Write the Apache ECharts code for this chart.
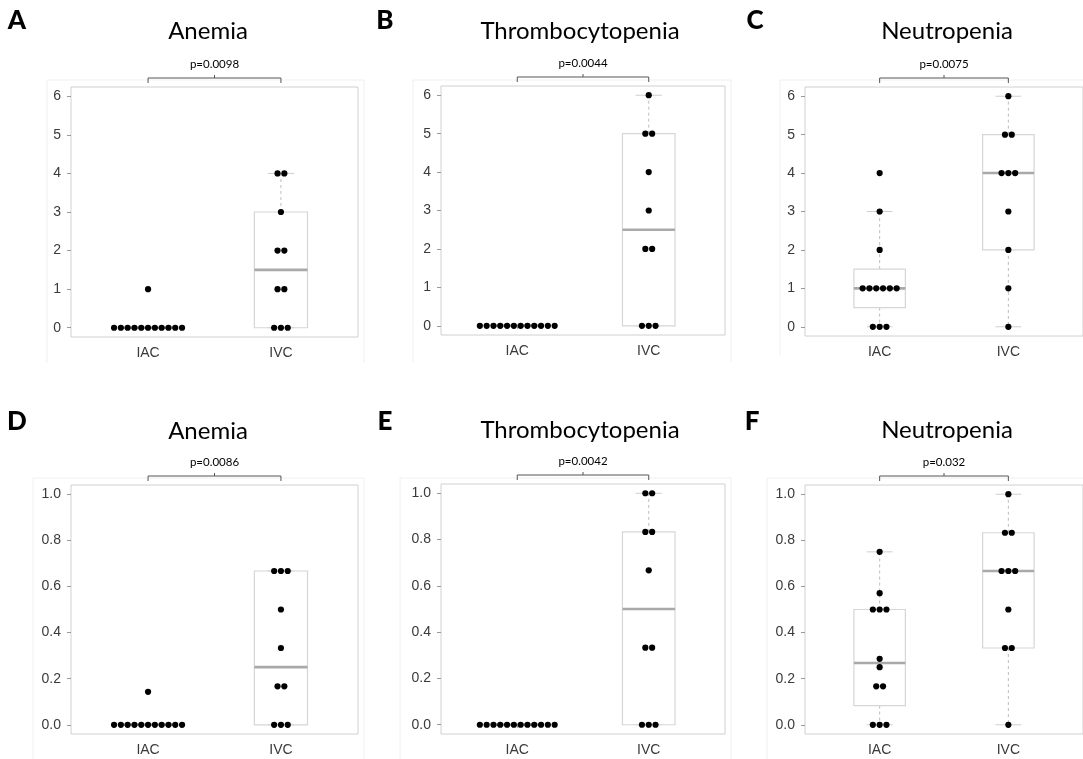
<!DOCTYPE html>
<html>
<head>
<meta charset="utf-8">
<script src="https://cdn.jsdelivr.net/npm/echarts@6/dist/echarts.min.js"></script>
<style>
html,body{margin:0;padding:0;background:#fff;}
#chart{width:1083px;height:759px;}
</style>
</head>
<body>
<div id="chart"></div>
<script>
// ---------------- data ----------------
const categories = ['IAC', 'IVC'];
const countTicks = [0, 1, 2, 3, 4, 5, 6];
const rateTicks = [0, 0.2, 0.4, 0.6, 0.8, 1.0];

const anemiaCountIAC = [1, 0, 0, 0, 0, 0, 0, 0, 0, 0, 0, 0];
const anemiaCountIVC = [4, 4, 3, 2, 2, 1, 1, 0, 0, 0];
const thrombCountIAC = [0, 0, 0, 0, 0, 0, 0, 0, 0, 0, 0, 0];
const thrombCountIVC = [6, 5, 5, 4, 3, 2, 2, 0, 0, 0];
const neutroCountIAC = [4, 3, 2, 1, 1, 1, 1, 1, 1, 0, 0, 0];
const neutroCountIVC = [6, 5, 5, 4, 4, 4, 3, 2, 1, 0];

const anemiaRateIAC = [0.143, 0, 0, 0, 0, 0, 0, 0, 0, 0, 0, 0];
const anemiaRateIVC = [0.667, 0.667, 0.667, 0.5, 0.333, 0.167, 0.167, 0, 0, 0];
const thrombRateIAC = [0, 0, 0, 0, 0, 0, 0, 0, 0, 0, 0, 0];
const thrombRateIVC = [1, 1, 0.833, 0.833, 0.667, 0.333, 0.333, 0, 0, 0];
const neutroRateIAC = [0.75, 0.571, 0.5, 0.5, 0.5, 0.286, 0.25, 0.167, 0.167, 0, 0, 0];
const neutroRateIVC = [1, 0.833, 0.833, 0.667, 0.667, 0.667, 0.5, 0.333, 0.333, 0];

const panelTitles = ['Anemia', 'Thrombocytopenia', 'Neutropenia', 'Anemia', 'Thrombocytopenia', 'Neutropenia'];
const panelLetters = ['A', 'B', 'C', 'D', 'E', 'F'];
const pValues = ['p=0.0098', 'p=0.0044', 'p=0.0075', 'p=0.0086', 'p=0.0042', 'p=0.032'];

const panels = [
  { iac: anemiaCountIAC, ivc: anemiaCountIVC, ticks: countTicks, max: 6, dec: 0 },
  { iac: thrombCountIAC, ivc: thrombCountIVC, ticks: countTicks, max: 6, dec: 0 },
  { iac: neutroCountIAC, ivc: neutroCountIVC, ticks: countTicks, max: 6, dec: 0 },
  { iac: anemiaRateIAC, ivc: anemiaRateIVC, ticks: rateTicks, max: 1, dec: 1 },
  { iac: thrombRateIAC, ivc: thrombRateIVC, ticks: rateTicks, max: 1, dec: 1 },
  { iac: neutroRateIAC, ivc: neutroRateIVC, ticks: rateTicks, max: 1, dec: 1 }
];

// ---------------- layout ----------------
const layout = [
  { l: 71,  t: 87,  w: 287, h: 250, tx: 208, ty: 31,  lx: 17,  ly: 21,  fl: 47,  ft: 80,  fr: 364,  fb: 363 },
  { l: 441, t: 86,  w: 284, h: 249, tx: 580, ty: 31,  lx: 385, ly: 21,  fl: 413, ft: 80,  fr: 731,  fb: 362 },
  { l: 805, t: 87,  w: 285, h: 249, tx: 947, ty: 31,  lx: 755, ly: 21,  fl: 780, ft: 80,  fr: 1100, fb: 356 },
  { l: 71,  t: 485, w: 287, h: 249, tx: 208, ty: 431, lx: 17,  ly: 422, fl: 33,  ft: 478, fr: 364,  fb: 770 },
  { l: 441, t: 484, w: 284, h: 250, tx: 580, ty: 430, lx: 385, ly: 422, fl: 400, ft: 478, fr: 731,  fb: 770 },
  { l: 805, t: 485, w: 285, h: 249, tx: 947, ty: 430, lx: 752, ly: 422, fl: 767, ft: 478, fr: 1100, fb: 770 }
];

const DOT_GAP = 6.8;
const AXIS_FONT = '"Liberation Sans", Arial, Helvetica, sans-serif';
const TITLE_FONT = 'Lato, "Open Sans", sans-serif';

// R-style boxplot statistics
function fivenum(arr) {
  const x = arr.slice().sort((a, b) => a - b);
  const n = x.length;
  const n4 = Math.floor((n + 3) / 2) / 2;
  const d = [1, n4, (n + 1) / 2, n + 1 - n4, n];
  return d.map(di => 0.5 * (x[Math.floor(di) - 1] + x[Math.ceil(di) - 1]));
}
function boxStats(arr) {
  const f = fivenum(arr);
  const iqr = f[3] - f[1];
  const lo = f[1] - 1.5 * iqr, hi = f[3] + 1.5 * iqr;
  const inside = arr.filter(v => v >= lo - 1e-9 && v <= hi + 1e-9);
  return [Math.min(...inside), f[1], f[2], f[3], Math.max(...inside)];
}
function swarm(values, cat) {
  const counts = new Map();
  values.forEach(v => counts.set(v, (counts.get(v) || 0) + 1));
  const out = [];
  counts.forEach((n, v) => {
    for (let k = 0; k < n; k++) {
      out.push({ value: [cat, v], symbolOffset: [(k - (n - 1) / 2) * DOT_GAP, 0] });
    }
  });
  return out;
}

function renderBox(params, api) {
  const cat = api.value(0);
  const pMin = api.coord([cat, api.value(1)]);
  const pQ1 = api.coord([cat, api.value(2)]);
  const pMd = api.coord([cat, api.value(3)]);
  const pQ3 = api.coord([cat, api.value(4)]);
  const pMax = api.coord([cat, api.value(5)]);
  const halfW = api.size([0.4, 0])[0] / 2;
  const stHalf = api.size([0.2, 0])[0] / 2;
  const x = pMd[0];
  const wStyle = { stroke: '#bdbdbd', lineWidth: 1, lineDash: [3, 3] };
  const sStyle = { stroke: '#cfcfcf', lineWidth: 1 };
  const children = [];
  if (pMax[1] < pQ3[1]) children.push({ type: 'line', shape: { x1: x, y1: pQ3[1], x2: x, y2: pMax[1] }, style: wStyle });
  if (pMin[1] > pQ1[1]) children.push({ type: 'line', shape: { x1: x, y1: pQ1[1], x2: x, y2: pMin[1] }, style: wStyle });
  children.push({ type: 'line', shape: { x1: x - stHalf, y1: pMax[1], x2: x + stHalf, y2: pMax[1] }, style: sStyle });
  children.push({ type: 'line', shape: { x1: x - stHalf, y1: pMin[1], x2: x + stHalf, y2: pMin[1] }, style: sStyle });
  children.push({ type: 'rect', shape: { x: x - halfW, y: pQ3[1], width: 2 * halfW, height: pQ1[1] - pQ3[1] },
    style: { fill: 'rgba(255,255,255,0)', stroke: '#d6d6d6', lineWidth: 1.2 } });
  children.push({ type: 'line', shape: { x1: x - halfW, y1: pMd[1], x2: x + halfW, y2: pMd[1] },
    style: { stroke: '#a9a9a9', lineWidth: 2.6 } });
  return { type: 'group', children };
}

function makeBracket(pText, yTop) {
  return function (params, api) {
    const a = api.coord([1, yTop]);
    const b = api.coord([2, yTop]);
    const top = params.coordSys.y;
    const yl = top - 9;
    const mid = (a[0] + b[0]) / 2;
    const st = { stroke: '#555', lineWidth: 1 };
    return {
      type: 'group',
      children: [
        { type: 'line', shape: { x1: a[0], y1: yl, x2: b[0], y2: yl }, style: st },
        { type: 'line', shape: { x1: a[0], y1: yl, x2: a[0], y2: yl + 5 }, style: st },
        { type: 'line', shape: { x1: b[0], y1: yl, x2: b[0], y2: yl + 5 }, style: st },
        { type: 'line', shape: { x1: mid, y1: yl, x2: mid, y2: yl - 3 }, style: st },
        { type: 'text', x: mid, y: top - 23,
          style: { text: pText, textAlign: 'center', textVerticalAlign: 'middle',
                   font: '11.5px ' + TITLE_FONT, fill: '#000' } }
      ]
    };
  };
}

// ---------------- build option ----------------
const grids = [], xAxes = [], yAxes = [], series = [], graphics = [];

panels.forEach((p, i) => {
  const L = layout[i];
  const pad = p.max * 0.04;
  grids.push({ left: L.l, top: L.t, width: L.w, height: L.h, show: true,
    borderColor: '#d0d0d0', borderWidth: 1, backgroundColor: 'rgba(0,0,0,0)', containLabel: false });
  xAxes.push({
    gridIndex: i, type: 'value', min: 0.42, max: 2.58,
    axisLine: { show: false }, splitLine: { show: false },
    axisTick: { show: true, length: 3, customValues: [1, 2], lineStyle: { color: '#999' } },
    axisLabel: { customValues: [1, 2], formatter: v => categories[Math.round(v) - 1], margin: 9,
      color: '#3a3a3a', fontSize: 14, fontFamily: AXIS_FONT }
  });
  yAxes.push({
    gridIndex: i, type: 'value', min: -pad, max: p.max + pad,
    axisLine: { show: false }, splitLine: { show: false },
    axisTick: { show: true, length: 4, customValues: p.ticks, lineStyle: { color: '#999' } },
    axisLabel: { customValues: p.ticks, formatter: v => Number(v).toFixed(p.dec), margin: 10,
      color: '#3a3a3a', fontSize: 14, fontFamily: AXIS_FONT }
  });
  series.push({
    type: 'custom', xAxisIndex: i, yAxisIndex: i, z: 2, silent: true,
    renderItem: renderBox,
    data: [[1].concat(boxStats(p.iac)), [2].concat(boxStats(p.ivc))]
  });
  series.push({
    type: 'scatter', xAxisIndex: i, yAxisIndex: i, z: 3, silent: true,
    symbol: 'circle', symbolSize: 6.2, itemStyle: { color: '#000', opacity: 1 },
    data: swarm(p.iac, 1).concat(swarm(p.ivc, 2))
  });
  series.push({
    type: 'custom', xAxisIndex: i, yAxisIndex: i, z: 4, silent: true, clip: false,
    renderItem: makeBracket(pValues[i], p.max),
    data: [[1, p.max]]
  });
  // faint outline of each plot image
  graphics.push({ type: 'polyline', z: 0, silent: true,
    shape: { points: [[L.fl, L.fb], [L.fl, L.ft], [L.fr, L.ft], [L.fr, L.fb]] },
    style: { stroke: '#f0f0f0', lineWidth: 1, fill: null } });
  graphics.push({ type: 'text', x: L.tx, y: L.ty, silent: true,
    style: { text: panelTitles[i], textAlign: 'center', textVerticalAlign: 'middle',
      font: '24px ' + TITLE_FONT, fill: '#000' } });
  graphics.push({ type: 'text', x: L.lx, y: L.ly, silent: true,
    style: { text: panelLetters[i], textAlign: 'center', textVerticalAlign: 'middle',
      font: '900 26px ' + TITLE_FONT, fill: '#000' } });
});

const chart = echarts.init(document.getElementById('chart'), null, { renderer: 'canvas' });
chart.setOption({
  backgroundColor: '#ffffff',
  animation: false,
  grid: grids,
  xAxis: xAxes,
  yAxis: yAxes,
  series: series,
  graphic: graphics
});
</script>
</body>
</html>
